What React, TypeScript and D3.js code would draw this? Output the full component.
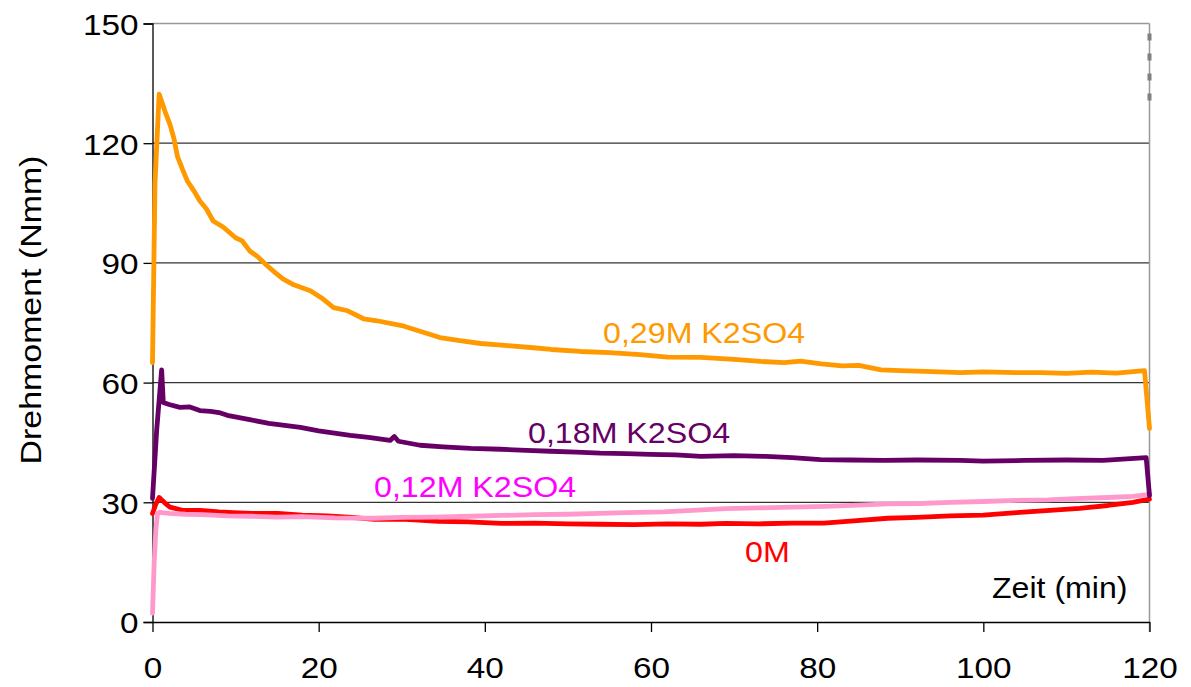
import React, { useRef, useEffect } from 'react';
import * as d3 from 'd3';

// Zeit (min) und Drehmoment (Nmm)
const t029 = [0, 0.3, 0.8, 1.5, 2.1, 2.6, 3.0, 3.6, 4.2, 5.0, 5.7, 6.5, 7.3, 8.5, 10, 10.8, 11.7, 12.7, 13.8, 14.8, 15.7, 17, 19, 20.5, 21.8, 23.5, 25.4, 27, 30, 32, 34.6, 37, 39.5, 42, 45.5, 48, 51.5, 55, 58.7, 62, 66, 70, 73.2, 76, 78, 80.5, 83, 85, 87.7, 90, 93, 97.3, 100, 104, 107, 110, 113, 116, 119.4, 120];
const v029 = [65, 110, 132.3, 128, 124.7, 121, 116.7, 113.5, 110.5, 108, 105.5, 103.5, 100.5, 99, 96.3, 95.5, 93, 91.5, 89.3, 87.5, 86, 84.5, 83, 81, 78.8, 78, 76, 75.5, 74.3, 73, 71.3, 70.5, 69.8, 69.4, 68.8, 68.3, 67.8, 67.5, 67, 66.4, 66.3, 65.8, 65.3, 65, 65.4, 64.7, 64.2, 64.3, 63.2, 63, 62.8, 62.5, 62.7, 62.5, 62.5, 62.3, 62.6, 62.4, 63, 48.5];

const t018 = [0, 0.5, 1.1, 1.3, 2, 3.3, 4.5, 5.7, 7, 8, 9, 11.7, 14, 17.8, 20, 23.8, 26, 28.6, 29.1, 29.6, 32.2, 35, 38.3, 41.9, 45, 47.9, 51, 53.9, 57, 59.9, 63, 66, 70, 73.8, 77, 80.4, 84, 88, 92, 97.2, 100, 105, 110, 114.4, 119.6, 120];
const v018 = [31, 48, 63.2, 55, 54.5, 53.8, 53.9, 53, 52.8, 52.5, 51.8, 50.7, 49.8, 48.8, 47.9, 46.8, 46.3, 45.5, 46.5, 45.3, 44.3, 43.9, 43.5, 43.3, 43, 42.8, 42.6, 42.3, 42.2, 42, 41.9, 41.5, 41.7, 41.5, 41.2, 40.7, 40.6, 40.5, 40.6, 40.5, 40.3, 40.5, 40.6, 40.5, 41.2, 31.7];

const t012 = [0, 0.2, 0.4, 0.6, 0.9, 2, 4, 6, 9, 12, 15, 18, 22, 26.7, 30, 34, 38.3, 42, 46, 50, 53.8, 57, 61.5, 65, 69, 73, 77, 81, 85, 88.5, 92.4, 96, 100, 104, 107.8, 111, 115, 118, 120];
const v012 = [2.2, 14.7, 23, 27.2, 27.5, 27.2, 27, 26.9, 26.6, 26.5, 26.3, 26.4, 26.1, 26.0, 26.2, 26.3, 26.5, 26.7, 26.9, 27, 27.2, 27.4, 27.6, 28, 28.4, 28.6, 28.8, 29, 29.3, 29.6, 29.7, 30, 30.2, 30.5, 30.6, 30.9, 31.2, 31.5, 32];

const t0 = [0, 0.4, 0.8, 1.5, 2.1, 3.6, 5.7, 8, 9.7, 12, 15.1, 18, 21, 24, 26.7, 30, 34.4, 38, 42, 46, 50, 53.8, 58, 62, 66, 69, 73, 77, 80.8, 84, 88.5, 92, 96, 100, 104, 108, 111.6, 115, 118, 120];
const v0 = [27.2, 29.5, 31.2, 29.8, 28.8, 28, 28, 27.6, 27.4, 27.2, 27.2, 26.8, 26.6, 26.2, 25.7, 25.8, 25.2, 25.1, 24.7, 24.8, 24.6, 24.5, 24.4, 24.6, 24.5, 24.7, 24.6, 24.8, 24.8, 25.3, 26, 26.2, 26.6, 26.8, 27.4, 28, 28.5, 29.2, 30, 30.8];

const xTicks = [0, 20, 40, 60, 80, 100, 120];
const yTicks = [0, 30, 60, 90, 120, 150];

const series = [
  { name: '0M', t: t0, v: v0, color: '#ff0000', labelColor: '#ff0000', lx: 745, ly: 562 },
  { name: '0,12M K2SO4', t: t012, v: v012, color: '#ff99cc', labelColor: '#ff00ff', lx: 374, ly: 497 },
  { name: '0,18M K2SO4', t: t018, v: v018, color: '#660066', labelColor: '#660066', lx: 528, ly: 443 },
  { name: '0,29M K2SO4', t: t029, v: v029, color: '#ff9900', labelColor: '#ff9900', lx: 603, ly: 343 },
];

function Chart() {
  const canvas = useRef<HTMLDivElement>(null);

  useEffect(() => {
    const W = 1191, H = 687;
    const left = 152.5, right = 1149.5, top = 23.5, bottom = 622;
    const font = '"Liberation Sans", Arial, sans-serif';
    const sx = 1.11; // Schrift im Original etwas breiter

    d3.select(canvas.current).select('svg').remove();
    const svg = d3.select(canvas.current)
      .append('svg')
      .attr('width', W)
      .attr('height', H)
      .style('display', 'block');

    const x = d3.scaleLinear().domain([0, 120]).range([left, right]);
    const y = d3.scaleLinear().domain([0, 150]).range([bottom, top]);

    // gridlines
    svg.append('g')
      .selectAll('line')
      .data(yTicks.filter(d => d > 0 && d < 150))
      .enter()
      .append('line')
      .attr('x1', left).attr('x2', right)
      .attr('y1', d => y(d)).attr('y2', d => y(d))
      .attr('stroke', '#333').attr('stroke-width', 1.3);

    // frame top + right (gray)
    svg.append('line').attr('x1', left).attr('x2', right).attr('y1', y(150)).attr('y2', y(150))
      .attr('stroke', '#999').attr('stroke-width', 1.5);
    svg.append('line').attr('x1', right).attr('x2', right).attr('y1', top).attr('y2', bottom + 10)
      .attr('stroke', '#999').attr('stroke-width', 1.5);
    svg.append('line').attr('x1', right).attr('x2', right).attr('y1', y(147.5)).attr('y2', y(130.5))
      .attr('stroke', '#808080').attr('stroke-width', 4).attr('stroke-dasharray', '7 13');

    // axes
    const yAxis = svg.append('g')
      .attr('transform', `translate(${left},0)`)
      .call(d3.axisLeft(y).tickValues(yTicks).tickSize(9));
    yAxis.select('.domain').attr('stroke', '#000').attr('stroke-width', 1.3);
    yAxis.selectAll('.tick line').attr('stroke', '#000').attr('stroke-width', 1.3);
    yAxis.selectAll('.tick text')
      .attr('font-family', font).attr('font-size', 30).attr('fill', '#000')
      .attr('x', 0).attr('dy', '0.36em')
      .attr('transform', `translate(-14,0) scale(${sx},1)`);

    const xAxis = svg.append('g')
      .attr('transform', `translate(0,${bottom})`)
      .call(d3.axisBottom(x).tickValues(xTicks).tickSize(10).tickSizeOuter(0));
    xAxis.select('.domain').attr('stroke', '#000').attr('stroke-width', 1.3);
    xAxis.selectAll('.tick line').attr('stroke', '#000').attr('stroke-width', 1.3);
    xAxis.selectAll('.tick text')
      .attr('font-family', font).attr('font-size', 30).attr('fill', '#000')
      .attr('y', 0).attr('dy', 0)
      .attr('transform', `translate(0,56) scale(${sx},1)`);

    svg.selectAll('.domain').attr('fill', 'none');

    const line = d3.line<[number, number]>()
      .x(d => x(d[0]))
      .y(d => y(d[1]));

    series.forEach(s => {
      const pts = s.t.map((t, i) => [t, s.v[i]] as [number, number]);
      svg.append('path')
        .attr('d', line(pts))
        .attr('fill', 'none')
        .attr('stroke', s.color)
        .attr('stroke-width', 4.8)
        .attr('stroke-linejoin', 'round')
        .attr('stroke-linecap', 'round');
    });

    series.forEach(s => {
      svg.append('text')
        .attr('transform', `translate(${s.lx},${s.ly}) scale(${sx},1)`)
        .attr('font-family', font).attr('font-size', 29)
        .attr('fill', s.labelColor)
        .text(s.name);
    });

    svg.append('text')
      .attr('transform', `translate(992,598) scale(${sx - 0.04},1)`)
      .attr('font-family', font).attr('font-size', 30)
      .attr('fill', '#000')
      .text('Zeit (min)');

    svg.append('text')
      .attr('transform', `translate(41,310) rotate(-90) scale(${sx + 0.02},1)`)
      .attr('text-anchor', 'middle')
      .attr('font-family', font).attr('font-size', 30)
      .attr('fill', '#000')
      .text('Drehmoment (Nmm)');
  }, []);

  return <div ref={canvas} style={{ position: 'absolute', left: 0, top: 0 }}></div>;
}

export default function App() {
  return <Chart />;
}
